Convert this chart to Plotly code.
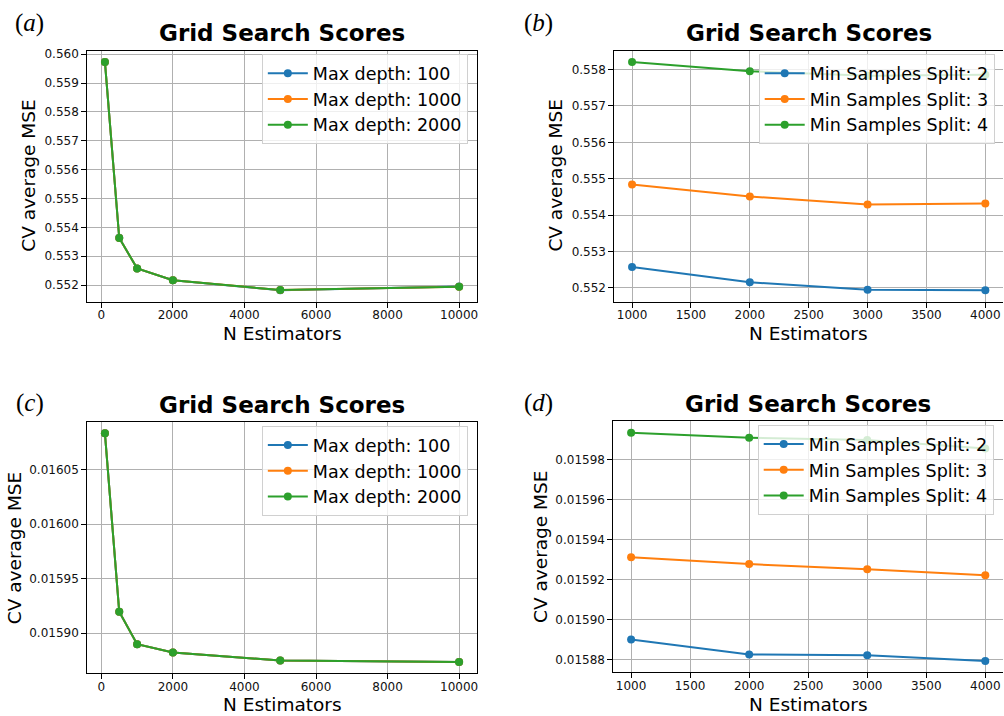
import plotly.graph_objects as go

# ---- data -------------------------------------------------------------
n_est_depth = [100, 500, 1000, 2000, 5000, 10000]
n_est_split = [1000, 2000, 3000, 4000]

depth_labels = ["Max depth: 100", "Max depth: 1000", "Max depth: 2000"]
split_labels = ["Min Samples Split: 2", "Min Samples Split: 3", "Min Samples Split: 4"]

# (a) max depth sweep, first target
mse_a_d100 = [0.55973, 0.55364, 0.55258, 0.55217, 0.55182, 0.55195]
mse_a_d1000 = [0.55973, 0.55363, 0.55258, 0.55217, 0.55183, 0.55194]
mse_a_d2000 = [0.55973, 0.55363, 0.55258, 0.55217, 0.55183, 0.55194]

# (b) min samples split sweep, first target
mse_b_s2 = [0.552574, 0.552155, 0.551954, 0.551936]
mse_b_s3 = [0.554839, 0.554511, 0.554293, 0.554320]
mse_b_s4 = [0.558208, 0.557954, 0.557826, 0.557853]

# (c) max depth sweep, second target
mse_c_d100 = [0.0160834, 0.0159197, 0.0158900, 0.0158823, 0.0158751, 0.0158736]
mse_c_d1000 = [0.0160834, 0.0159197, 0.0158900, 0.0158823, 0.0158750, 0.0158736]
mse_c_d2000 = [0.0160834, 0.0159197, 0.0158900, 0.0158823, 0.0158750, 0.0158736]

# (d) min samples split sweep, second target
mse_d_s2 = [0.0158900, 0.0158825, 0.0158821, 0.0158792]
mse_d_s3 = [0.0159312, 0.0159278, 0.0159252, 0.0159222]
mse_d_s4 = [0.0159937, 0.0159912, 0.0159900, 0.0159858]

colors = ["#1f77b4", "#ff7f0e", "#2ca02c"]

W, H = 1004, 716
FONT = "DejaVu Sans"


def px_x(p):
    return p / W


def px_y(p):
    return 1 - p / H


def padded(values, frac=0.05):
    lo, hi = min(values), max(values)
    pad = (hi - lo) * frac
    return [lo - pad, hi + pad]


fig = go.Figure()

panels = [
    # key, x values, series, labels, pixel box (left, top, right, bottom) and text spots
    dict(key="", xs=n_est_depth, ys=[mse_a_d100, mse_a_d1000, mse_a_d2000],
         labels=depth_labels, box=(87.3, 47.7, 477.3, 300.0),
         dtick_x=2000, tick0_x=0, dtick_y=0.001, tick0_y=0.552, yfmt=".3f",
         mirror_y=True, legend_box=(468.3, 51.5), letter="a",
         letter_pos=(29.7, 20.5), title_pos=(282.3, 29.7), xt_pos=331.5, yt_pos=(29.0, 173.5)),
    dict(key="2", xs=n_est_split, ys=[mse_b_s2, mse_b_s3, mse_b_s4],
         labels=split_labels, box=(615.0, 47.7, 1004.4, 300.0),
         dtick_x=500, tick0_x=1000, dtick_y=0.001, tick0_y=0.552, yfmt=".3f",
         mirror_y=False, legend_box=(995.7, 51.5), letter="b",
         letter_pos=(539.5, 20.5), title_pos=(809.6, 29.7), xt_pos=331.5, yt_pos=(556.4, 173.5)),
    dict(key="3", xs=n_est_depth, ys=[mse_c_d100, mse_c_d1000, mse_c_d2000],
         labels=depth_labels, box=(87.3, 420.7, 477.3, 673.3),
         dtick_x=2000, tick0_x=0, dtick_y=0.00005, tick0_y=0.0159, yfmt=".5f",
         mirror_y=True, legend_box=(468.3, 425.0), letter="c",
         letter_pos=(29.7, 401.5), title_pos=(282.3, 403.3), xt_pos=704.5, yt_pos=(14.0, 547.5)),
    dict(key="4", xs=n_est_split, ys=[mse_d_s2, mse_d_s3, mse_d_s4],
         labels=split_labels, box=(614.0, 420.0, 1004.4, 672.3),
         dtick_x=500, tick0_x=1000, dtick_y=0.00002, tick0_y=0.01588, yfmt=".5f",
         mirror_y=False, legend_box=(994.7, 424.0), letter="d",
         letter_pos=(539.5, 401.5), title_pos=(808.7, 402.7), xt_pos=704.0, yt_pos=(541.0, 545.8)),
]

annotations = []
layout_axes = {}

for p in panels:
    k = p["key"]
    xa, ya = "x" + k, "y" + k
    legend_name = "legend" + k
    all_y = [v for s in p["ys"] for v in s]

    for i, (series, label) in enumerate(zip(p["ys"], p["labels"])):
        fig.add_trace(go.Scatter(
            x=p["xs"], y=series, name=label, mode="lines+markers",
            line=dict(color=colors[i], width=2),
            marker=dict(color=colors[i], size=8),
            xaxis=xa, yaxis=ya, legend=legend_name,
        ))

    left, top, right, bottom = p["box"]
    axis_common = dict(
        showgrid=True, gridcolor="#b0b0b0", gridwidth=1,
        zeroline=False, showline=True, linecolor="black", linewidth=1,
        ticks="outside", ticklen=5, tickwidth=1, tickcolor="black",
        tickfont=dict(family=FONT, size=12, color="#111111"),
    )
    layout_axes["xaxis" + k] = dict(
        axis_common,
        domain=[px_x(left), min(1.0, px_x(right))],
        anchor=ya, range=padded(p["xs"]), mirror=True,
        tick0=p["tick0_x"], dtick=p["dtick_x"], tickformat="d",
        ticklabelstandoff=-3,
    )
    layout_axes["yaxis" + k] = dict(
        axis_common,
        domain=[px_y(bottom), px_y(top)],
        anchor=xa, range=padded(all_y), mirror=p["mirror_y"],
        tick0=p["tick0_y"], dtick=p["dtick_y"], tickformat=p["yfmt"],
    )

    lx, ly = p["legend_box"]
    layout_axes[legend_name] = dict(
        x=px_x(lx), y=px_y(ly), xanchor="right", yanchor="top",
        bgcolor="rgba(255,255,255,0.8)", bordercolor="#d0d0d0", borderwidth=1,
        font=dict(family=FONT, size=17.5, color="black"),
        tracegroupgap=0, itemwidth=40,
    )

    # panel title
    tx, ty = p["title_pos"]
    annotations.append(dict(
        text="<b>Grid Search Scores</b>", x=px_x(tx), y=px_y(ty),
        xref="paper", yref="paper", xanchor="center", yanchor="middle",
        showarrow=False, font=dict(family=FONT, size=23, color="black"),
    ))
    # x-axis title, centred under the plotting area
    annotations.append(dict(
        text="N Estimators", x=px_x((left + right) / 2),
        y=px_y(p["xt_pos"]), xref="paper", yref="paper",
        xanchor="center", yanchor="middle", showarrow=False,
        font=dict(family=FONT, size=18.5, color="black"),
    ))
    # y-axis title
    yx, yy = p["yt_pos"]
    annotations.append(dict(
        text="CV average MSE", x=px_x(yx), y=px_y(yy), textangle=-90,
        xref="paper", yref="paper", xanchor="center", yanchor="middle",
        showarrow=False, font=dict(family=FONT, size=18.5, color="black"),
    ))
    # panel letter
    ltx, lty = p["letter_pos"]
    annotations.append(dict(
        text=f"(<i>{p['letter']}</i>)", x=px_x(ltx), y=px_y(lty),
        xref="paper", yref="paper", xanchor="center", yanchor="middle",
        showarrow=False, font=dict(family="Liberation Serif", size=25, color="black"),
    ))

fig.update_layout(
    width=W, height=H,
    margin=dict(l=0, r=0, t=0, b=0),
    paper_bgcolor="white", plot_bgcolor="white",
    showlegend=True,
    annotations=annotations,
    **layout_axes,
)

fig.write_html("out.html")
